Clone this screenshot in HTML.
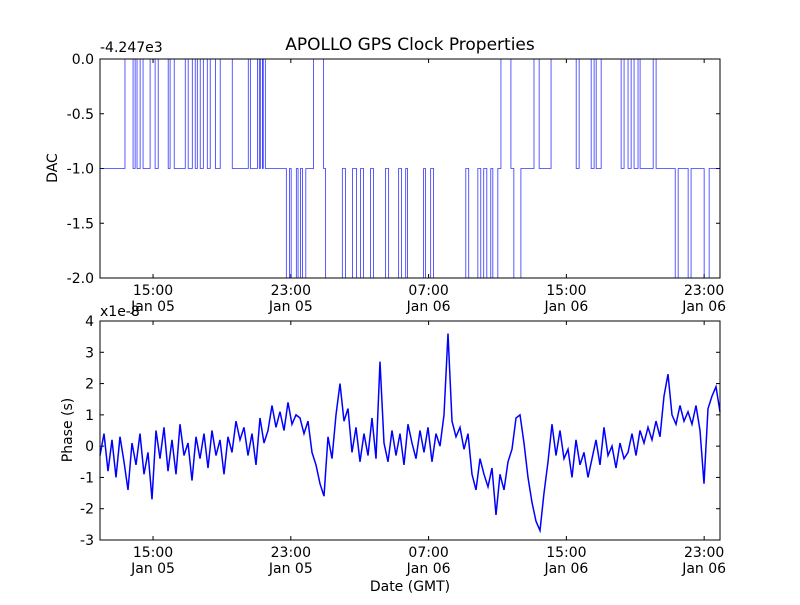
<!DOCTYPE html>
<html><head><meta charset="utf-8"><style>
body{margin:0;background:#fff}
svg text{font-family:"DejaVu Sans","Liberation Sans",sans-serif;fill:#000}
</style></head><body>
<svg id="chart" width="800" height="600" xmlns="http://www.w3.org/2000/svg">
<rect width="800" height="600" fill="#fff"/>
<text x="410" y="50" font-size="17" text-anchor="middle">APOLLO GPS Clock Properties</text>
<g id="top"></g>
<g id="bot"></g>
</svg>
<script>
// hours since start (start ≈ Jan 05 11:55), DAC offset values
const dacTimes=[0,1.45,1.92,2.04,2.15,2.33,2.5,2.91,3.2,3.38,3.96,4.07,4.31,4.95,5.12,5.36,5.53,5.65,5.82,6.0,6.23,6.4,6.7,6.98,7.68,8.61,8.73,9.14,9.25,9.31,9.43,9.48,9.6,10.82,11.0,11.1,11.4,11.5,11.64,11.76,11.95,12.4,12.98,13.1,14.07,14.25,14.66,14.9,15.13,15.3,15.71,15.88,16.58,16.76,17.34,17.51,17.75,17.86,18.79,18.9,19.2,19.37,21.24,21.41,21.94,22.11,22.28,22.46,22.69,22.81,23.1,23.28,23.86,24.03,24.44,25.2,25.5,26.19,27.65,27.82,28.52,28.69,28.81,29.1,30.26,30.43,30.66,30.84,31.01,31.24,31.36,32.12,32.29,33.4,33.57,34.15,34.32,35.08,35.37];
const dacValues=[-1,0,-1,0,-1,0,-1,0,-1,0,-1,0,-1,0,-1,0,-1,0,-1,0,-1,0,-1,0,-1,0,-1,0,-1,0,-1,0,-1,-2,-1,-2,-1,-2,-1,-2,-1,0,-1,-2,-1,-2,-1,-2,-1,-2,-1,-2,-1,-2,-1,-2,-1,-2,-1,-2,-1,-2,-1,-2,-1,-2,-1,-2,-1,-2,-1,0,-1,-2,-1,0,-1,0,-1,0,-1,0,-1,0,-1,0,-1,0,-1,0,-1,0,-1,-2,-1,-2,-1,-2,-1];
// phase in units of 1e-8 s, evenly spaced over 36 h
const phaseValues=[-0.3,0.4,-0.8,0.2,-1.0,0.3,-0.5,-1.4,0.1,-0.6,0.4,-0.9,-0.2,
-1.7,0.5,-0.4,0.6,-0.8,0.2,-0.9,0.7,-0.3,0.1,-1.1,0.3,-0.4,
0.4,-0.7,0.5,-0.3,0.2,-0.9,0.3,-0.2,0.8,0.2,0.6,-0.3,
0.4,-0.6,0.9,0.1,0.5,1.3,0.6,1.1,0.5,1.4,0.7,1.0,
0.9,0.4,0.8,-0.2,-0.6,-1.2,-1.6,0.3,-0.4,1.0,2.0,0.8,
1.2,-0.2,0.6,-0.5,0.4,-0.3,0.9,-0.4,2.7,0.1,-0.5,0.5,
-0.3,0.4,-0.6,0.7,0.1,-0.4,0.5,-0.2,0.6,-0.5,0.4,0.0,
1.0,3.6,0.8,0.3,0.6,-0.1,0.4,-0.9,-1.4,-0.4,-0.9,-1.3,
-0.7,-2.2,-0.9,-1.4,-0.5,-0.1,0.9,1.0,0.1,-1.0,-1.8,-2.4,
-2.7,-1.5,-0.5,0.7,-0.3,0.5,-0.4,-0.1,-1.0,0.2,-0.6,-0.2,
-1.0,-0.4,0.2,-0.6,0.6,-0.3,0.0,-0.7,0.1,-0.4,-0.2,0.4,
-0.3,0.5,0.1,0.6,0.2,0.8,0.3,1.6,2.3,1.0,0.7,1.3,
0.8,1.1,0.7,1.3,0.5,-1.2,1.2,1.6,1.9,1.1];
const xTickHours=[3.08,11.08,19.08,27.08,35.08];
const xTickTimes=["15:00","23:00","07:00","15:00","23:00"];
const xTickDates=["Jan 05","Jan 05","Jan 06","Jan 06","Jan 06"];
const dacTicks=[0,-0.5,-1,-1.5,-2];
const phaseTicks=[4,3,2,1,0,-1,-2,-3];

const NS="http://www.w3.org/2000/svg";
const L=100,R=720,TH=36;
const X=h=>L+h/TH*(R-L);
function mk(p,tag,a){const e=document.createElementNS(NS,tag);for(const k in a)e.setAttribute(k,a[k]);p.appendChild(e);return e;}
function panel(g,top,bot,ymax,ymin,ticks,fmt){
  const Y=v=>top+(ymax-v)/(ymax-ymin)*(bot-top);
  xTickHours.forEach((h,i)=>{const x=X(h);
    const t=mk(g,'line',{x1:x,x2:x,y1:bot,y2:bot-4,stroke:'#000'});
    
    
    mk(g,'line',{x1:x,x2:x,y1:top,y2:top+4,stroke:'#000'});
    const a=mk(g,'text',{x:x,y:bot+17,'font-size':14,'text-anchor':'middle'});a.textContent=xTickTimes[i];
    
    
    const b=mk(g,'text',{x:x,y:bot+33,'font-size':14,'text-anchor':'middle'});b.textContent=xTickDates[i];
    
    
  });
  ticks.forEach(v=>{const y=Y(v);
    mk(g,'line',{x1:L,x2:L+4,y1:y,y2:y,stroke:'#000'});
    mk(g,'line',{x1:R,x2:R-4,y1:y,y2:y,stroke:'#000'});
    const t=mk(g,'text',{x:L-6,y:y+5,'font-size':14,'text-anchor':'end'});t.textContent=fmt(v);
    
    
  });
  return Y;
}
const gt=document.getElementById('top');
const Yt=panel(gt,59,278,0,-2,dacTicks,v=>v.toFixed(1));
let d='';
dacTimes.forEach((h,i)=>{const x=X(h),y=Yt(dacValues[i]);
  if(i===0)d+=`M${x},${y}`;else d+=`L${x},${Yt(dacValues[i-1])}L${x},${y}`;});
d+=`L${R},${Yt(dacValues[dacValues.length-1])}`;
const dl=mk(gt,'path',{d:d,fill:'none',stroke:'#0000ff','stroke-width':0.8,'stroke-opacity':0.8});


const f1=mk(gt,'rect',{x:L,y:59,width:R-L,height:219,fill:'none',stroke:'#000'});


let t=mk(gt,'text',{x:100,y:52,'font-size':14});t.textContent='-4.247e3';


t=mk(gt,'text',{x:57,y:168,'font-size':14,'text-anchor':'middle',transform:'rotate(-90 57 168)'});t.textContent='DAC';



const gb=document.getElementById('bot');
const Yb=panel(gb,321,540,4,-3,phaseTicks,v=>String(v));
const n=phaseValues.length;
const pts=phaseValues.map((v,i)=>`${X(i*TH/(n-1))},${Yb(v)}`).join(' ');
const pl=mk(gb,'polyline',{points:pts,fill:'none',stroke:'#0000ff','stroke-width':1.5});


const f2=mk(gb,'rect',{x:L,y:321,width:R-L,height:219,fill:'none',stroke:'#000'});


t=mk(gb,'text',{x:100,y:316,'font-size':14});t.textContent='x1e-8';


t=mk(gb,'text',{x:72,y:430,'font-size':14,'text-anchor':'middle',transform:'rotate(-90 72 430)'});t.textContent='Phase (s)';


t=mk(gb,'text',{x:410,y:591,'font-size':14,'text-anchor':'middle'});t.textContent='Date (GMT)';


</script>
</body></html>
